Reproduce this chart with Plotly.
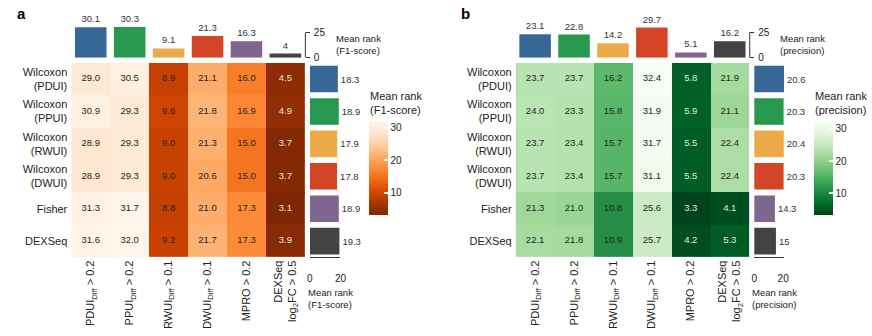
import plotly.graph_objects as go

W, H = 872, 336

rows = ["Wilcoxon<br>(PDUI)", "Wilcoxon<br>(PPUI)", "Wilcoxon<br>(RWUI)",
        "Wilcoxon<br>(DWUI)", "Fisher", "DEXSeq"]
cols = ["PDUI<sub>Diff</sub> > 0.2", "PPUI<sub>Diff</sub> > 0.2",
        "RWUI<sub>Diff</sub> > 0.1", "DWUI<sub>Diff</sub> > 0.1",
        "MPRO > 0.2", "DEXSeq<br>log<sub>2</sub>FC > 0.5"]

# Panel a: F1-score mean ranks
f1_matrix = [
    [29.0, 30.5, 8.9, 21.1, 16.0, 4.5],
    [30.9, 29.3, 9.6, 21.8, 16.9, 4.9],
    [28.9, 29.3, 9.0, 21.3, 15.0, 3.7],
    [28.9, 29.3, 9.0, 20.6, 15.0, 3.7],
    [31.3, 31.7, 8.8, 21.0, 17.3, 3.1],
    [31.6, 32.0, 9.2, 21.7, 17.3, 3.9],
]
f1_col_mean = [30.1, 30.3, 9.1, 21.3, 16.3, 4]
f1_row_mean = [18.3, 18.9, 17.9, 17.8, 18.9, 19.3]

# Panel b: precision mean ranks
prec_matrix = [
    [23.7, 23.7, 16.2, 32.4, 5.8, 21.9],
    [24.0, 23.3, 15.8, 31.9, 5.9, 21.1],
    [23.7, 23.4, 15.7, 31.7, 5.5, 22.4],
    [23.7, 23.4, 15.7, 31.1, 5.5, 22.4],
    [21.3, 21.0, 10.8, 25.6, 3.3, 4.1],
    [22.1, 21.8, 10.9, 25.7, 4.2, 5.3],
]
prec_col_mean = [23.1, 22.8, 14.2, 29.7, 5.1, 16.2]
prec_row_mean = [20.6, 20.3, 20.4, 20.3, 14.3, 15]

method_colors = ["#376796", "#27994f", "#edaa4b", "#d44527", "#7e6690", "#434343"]

FONT = "Liberation Sans, Arial, sans-serif"
TXT = "#222222"


def px(p):
    return p / W


def py(p):
    return 1 - p / H


fig = go.Figure()
layout = dict(
    width=W, height=H, margin=dict(l=0, r=0, t=0, b=0),
    paper_bgcolor="white", plot_bgcolor="white",
    font=dict(family=FONT, color=TXT), showlegend=False,
    annotations=[], shapes=[],
)


def panel(k, dx, matrix, col_mean, row_mean, cscale, label, metric, rbar_range, rbar_w):
    i1, i2, i3 = 3 * k + 1, 3 * k + 2, 3 * k + 3
    sx = lambda i: "x" if i == 1 else f"x{i}"
    sy = lambda i: "y" if i == 1 else f"y{i}"
    ln = lambda i: "" if i == 1 else str(i)

    flat = [v for r in matrix for v in r]
    zmin, zmax = min(flat), max(flat)

    fig.add_trace(go.Heatmap(
        z=matrix, x=cols, y=rows, colorscale=cscale, reversescale=True,
        zmin=zmin, zmax=zmax, xaxis=sx(i1), yaxis=sy(i1), hoverinfo="skip",
        colorbar=dict(
            x=px(370 + dx), xanchor="left", y=py(219), yanchor="bottom",
            len=94, lenmode="pixels", thickness=19, thicknessmode="pixels",
            xpad=0, ypad=0, outlinewidth=0, tickvals=[10, 20, 30],
            ticks="inside", tickcolor="white", ticklen=4, tickwidth=1.5,
            tickfont=dict(size=10, color=TXT, family=FONT),
        ),
    ))
    xs, ys, ts, cs = [], [], [], []
    for r, rn in enumerate(rows):
        for c, cn in enumerate(cols):
            v = matrix[r][c]
            xs.append(cn)
            ys.append(rn)
            ts.append(f"{v:.1f}")
            cs.append("#e6e6e6" if v < 8 else "#262626")
    fig.add_trace(go.Scatter(
        x=xs, y=ys, text=ts, mode="text", textfont=dict(size=9.5, color=cs, family=FONT),
        xaxis=sx(i1), yaxis=sy(i1), hoverinfo="skip", cliponaxis=False,
    ))
    # top bars
    fig.add_trace(go.Bar(
        x=cols, y=col_mean, marker=dict(color=method_colors, line=dict(width=0)),
        width=0.81, text=[f"{v:g}" for v in col_mean], textposition="outside",
        textfont=dict(size=9.5, color="#333333", family=FONT), cliponaxis=False,
        xaxis=sx(i2), yaxis=sy(i2), hoverinfo="skip",
    ))
    # right bars
    fig.add_trace(go.Bar(
        y=rows, x=row_mean, orientation="h",
        marker=dict(color=method_colors, line=dict(width=0)),
        width=0.82, text=[f"{v:g}" for v in row_mean], textposition="outside",
        textfont=dict(size=9.5, color="#333333", family=FONT), cliponaxis=False,
        xaxis=sx(i3), yaxis=sy(i3), hoverinfo="skip",
    ))

    hm_dom_x = [px(69 + dx), px(305 + dx)]
    hm_dom_y = [py(262), py(64)]
    layout["xaxis" + ln(i1)] = dict(
        domain=hm_dom_x, anchor=sy(i1), range=[-0.5, 5.5], tickangle=-90,
        showgrid=False, zeroline=False, showline=False, ticks="",
        tickfont=dict(size=11, color=TXT, family=FONT), fixedrange=True,
    )
    layout["yaxis" + ln(i1)] = dict(
        domain=hm_dom_y, anchor=sx(i1), autorange="reversed",
        showgrid=False, zeroline=False, showline=False, ticks="",
        tickfont=dict(size=11, color=TXT, family=FONT), ticklabelstandoff=3,
    )
    layout["xaxis" + ln(i2)] = dict(
        domain=hm_dom_x, anchor=sy(i2), matches=sx(i1), visible=False,
    )
    layout["yaxis" + ln(i2)] = dict(
        domain=[py(58.7), py(26)], anchor=sx(i2), range=[0, 31.75], side="right",
        tickvals=[0, 25], ticks="outside", ticklen=4, tickcolor="#333333",
        showline=False, showgrid=False, zeroline=False,
        tickfont=dict(size=10, color=TXT, family=FONT), ticklabelstandoff=2,
    )
    layout["xaxis" + ln(i3)] = dict(
        domain=[px(310 + dx), px(310 + dx + rbar_w)], anchor=sy(i3), range=rbar_range,
        tickvals=[0, 20], ticks="inside", ticklen=4, tickcolor="#333333",
        showline=True, linecolor="#333333", linewidth=1, showgrid=False, zeroline=False,
        tickfont=dict(size=10, color=TXT, family=FONT), ticklabelstandoff=12,
    )
    layout["yaxis" + ln(i3)] = dict(
        domain=hm_dom_y, anchor=sx(i3), matches=sy(i1), visible=False,
    )
    # top axis line (0..25)
    layout["shapes"].append(dict(
        type="line", xref="paper", x0=px(305.5 + dx), x1=px(305.5 + dx),
        yref=sy(i2), y0=0, y1=25, line=dict(color="#333333", width=1),
    ))
    ann = layout["annotations"]
    ann.append(dict(text=f"<b>{label}</b>", x=px(12 + dx), y=py(14), xref="paper", yref="paper",
                    xanchor="left", yanchor="middle", showarrow=False,
                    font=dict(size=15, color="#000000", family=FONT)))
    ann.append(dict(text=f"Mean rank<br>({metric})", x=px(334 + dx), y=py(45), xref="paper",
                    yref="paper", xanchor="left", yanchor="middle", align="left",
                    showarrow=False, font=dict(size=9.5, color=TXT, family=FONT)))
    ann.append(dict(text=f"Mean rank<br>({metric})", x=px(369 + dx), y=py(105), xref="paper",
                    yref="paper", xanchor="left", yanchor="middle", align="left",
                    showarrow=False, font=dict(size=11, color=TXT, family=FONT)))
    ann.append(dict(text=f"Mean rank<br>({metric})", x=px(306 + dx), y=py(304), xref="paper",
                    yref="paper", xanchor="left", yanchor="middle", align="left",
                    showarrow=False, font=dict(size=9.5, color=TXT, family=FONT)))


panel(0, 0, f1_matrix, f1_col_mean, f1_row_mean, "Oranges", "a", "F1-score", [0, 20], 31)
panel(1, 449, prec_matrix, prec_col_mean, prec_row_mean, "Greens", "b", "precision",
      [0, 20.6], 30.2)

fig.update_layout(**layout)
fig.write_html("out.html")
